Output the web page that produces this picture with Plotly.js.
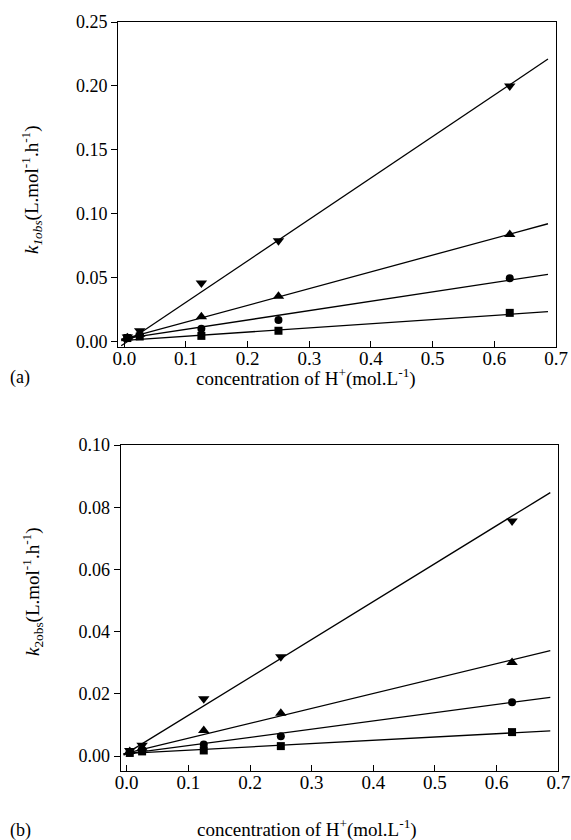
<!DOCTYPE html>
<html>
<head>
<meta charset="utf-8">
<script src="https://cdn.plot.ly/plotly-3.0.1.min.js"></script>
<style>html,body{margin:0;padding:0;background:#fff;}#chart{width:571px;height:840px;}</style>
</head>
<body>
<div id="chart"></div>
<script>
// Concentration of H+ (mol/L)
const concH = [0.005, 0.025, 0.125, 0.25, 0.625];

// Panel (a): k1obs
const k1_down   = [0.0036, 0.0085, 0.0458, 0.0790, 0.2000];
const k1_up     = [0.0030, 0.0058, 0.0195, 0.0354, 0.0838];
const k1_circle = [0.0030, 0.0050, 0.0100, 0.0170, 0.0495];
const k1_square = [0.0028, 0.0040, 0.0045, 0.0085, 0.0225];

// Panel (b): k2obs
const k2_down   = [0.0018, 0.0035, 0.0184, 0.0319, 0.0756];
const k2_up     = [0.0015, 0.0025, 0.0082, 0.0138, 0.0301];
const k2_circle = [0.0012, 0.0020, 0.0037, 0.0064, 0.0173];
const k2_square = [0.0010, 0.0015, 0.0018, 0.0032, 0.0077];

// Fitted lines (endpoints)
const fitX = [-0.005, 0.687];
const fit1_down   = [-0.0032, 0.2210];
const fit1_up     = [0.0015, 0.0922];
const fit1_circle = [0.0019, 0.0526];
const fit1_square = [0.0008, 0.0234];
const fit2_down   = [0.0003, 0.0847];
const fit2_up     = [0.0007, 0.0339];
const fit2_circle = [0.0006, 0.0189];
const fit2_square = [0.0008, 0.0081];

const xTicks = [0, 0.1, 0.2, 0.3, 0.4, 0.5, 0.6, 0.7];
const xTickText = ["0.0","0.1","0.2","0.3","0.4","0.5","0.6","0.7"];
const y1Ticks = [0, 0.05, 0.10, 0.15, 0.20, 0.25];
const y1TickText = ["0.00","0.05","0.10","0.15","0.20","0.25"];
const y2Ticks = [0, 0.02, 0.04, 0.06, 0.08, 0.10];
const y2TickText = ["0.00","0.02","0.04","0.06","0.08","0.10"];

const FONT = "Liberation Serif";
const markerSyms = ["triangle-down","triangle-up","circle","square"];

function pts(y, sym, xa, ya) {
  return {x: concH, y: y, xaxis: xa, yaxis: ya, mode: "markers", type: "scatter",
    marker: {symbol: sym, color: "#000", size: sym.indexOf("triangle") === 0 ? 10 : 8},
    showlegend: false, hoverinfo: "x+y", cliponaxis: false};
}
function fit(y, xa, ya) {
  return {x: fitX, y: y, xaxis: xa, yaxis: ya, mode: "lines", type: "scatter",
    line: {color: "#000", width: 1.3}, showlegend: false, hoverinfo: "skip"};
}

const data = [
  fit(fit1_down,"x","y"), fit(fit1_up,"x","y"), fit(fit1_circle,"x","y"), fit(fit1_square,"x","y"),
  pts(k1_down, markerSyms[0], "x","y"), pts(k1_up, markerSyms[1], "x","y"),
  pts(k1_circle, markerSyms[2], "x","y"), pts(k1_square, markerSyms[3], "x","y"),
  fit(fit2_down,"x2","y2"), fit(fit2_up,"x2","y2"), fit(fit2_circle,"x2","y2"), fit(fit2_square,"x2","y2"),
  pts(k2_down, markerSyms[0], "x2","y2"), pts(k2_up, markerSyms[1], "x2","y2"),
  pts(k2_circle, markerSyms[2], "x2","y2"), pts(k2_square, markerSyms[3], "x2","y2")
];

const W = 571, H = 840;
function px(v){ return v / W; }
function py(v){ return 1 - v / H; }

function xAxis(domain, anchor, range) {
  return {
    domain: domain, anchor: anchor, range: range,
    tickmode: "array", tickvals: xTicks, ticktext: xTickText,
    ticks: "inside", ticklen: 6, tickcolor: "#000", tickwidth: 1,
    showline: true, linecolor: "#000", linewidth: 1, mirror: true,
    showgrid: false, zeroline: false, ticklabelstandoff: -6,
    tickfont: {family: FONT, size: 19, color: "#000"}
  };
}
function yAxis(domain, anchor, range, vals, text) {
  return {
    domain: domain, anchor: anchor, range: range,
    tickmode: "array", tickvals: vals, ticktext: text,
    ticks: "outside", ticklen: 6, tickcolor: "#000", tickwidth: 1,
    showline: true, linecolor: "#000", linewidth: 1, mirror: true,
    showgrid: false, zeroline: false,
    tickfont: {family: FONT, size: 18, color: "#000"}
  };
}

const layout = {
  width: W, height: H, autosize: false,
  margin: {l: 0, r: 0, t: 0, b: 0, pad: 0},
  paper_bgcolor: "#fff", plot_bgcolor: "#fff",
  font: {family: FONT, size: 18, color: "#000"},
  xaxis: xAxis([px(118), px(556)], "y", [-0.0102, 0.70]),
  yaxis: yAxis([py(347), py(22)], "x", [-0.0042, 0.25], y1Ticks, y1TickText),
  xaxis2: xAxis([px(120.7), px(558.3)], "y2", [-0.0097, 0.70]),
  yaxis2: yAxis([py(771), py(445)], "x2", [-0.0048, 0.10], y2Ticks, y2TickText),
  annotations: [
    {xref: "paper", yref: "paper", x: px(306), y: py(378), text: "concentration of H<sup>+</sup>(mol.L<sup>-1</sup>)",
     showarrow: false, xanchor: "center", yanchor: "middle", font: {family: FONT, size: 19, color: "#000"}},
    {xref: "paper", yref: "paper", x: px(8), y: py(378), text: "(a)",
     showarrow: false, xanchor: "left", yanchor: "middle", font: {family: FONT, size: 18, color: "#000"}},
    {xref: "paper", yref: "paper", x: px(307), y: py(828), text: "concentration of H<sup>+</sup>(mol.L<sup>-1</sup>)",
     showarrow: false, xanchor: "center", yanchor: "middle", font: {family: FONT, size: 19, color: "#000"}},
    {xref: "paper", yref: "paper", x: px(8), y: py(830), text: "(b)",
     showarrow: false, xanchor: "left", yanchor: "middle", font: {family: FONT, size: 18, color: "#000"}},
    {xref: "paper", yref: "paper", x: px(32), y: py(190), textangle: -90,
     text: "<i>k</i><sub><i>1obs</i></sub>(L.mol<sup>-1</sup>.h<sup>-1</sup>)",
     showarrow: false, xanchor: "center", yanchor: "middle", font: {family: FONT, size: 19, color: "#000"}},
    {xref: "paper", yref: "paper", x: px(32), y: py(592), textangle: -90,
     text: "<i>k</i><sub>2obs</sub>(L.mol<sup>-1</sup>.h<sup>-1</sup>)",
     showarrow: false, xanchor: "center", yanchor: "middle", font: {family: FONT, size: 19, color: "#000"}}
  ]
};

Plotly.newPlot("chart", data, layout, {displayModeBar: false, staticPlot: true});
</script>
</body>
</html>
